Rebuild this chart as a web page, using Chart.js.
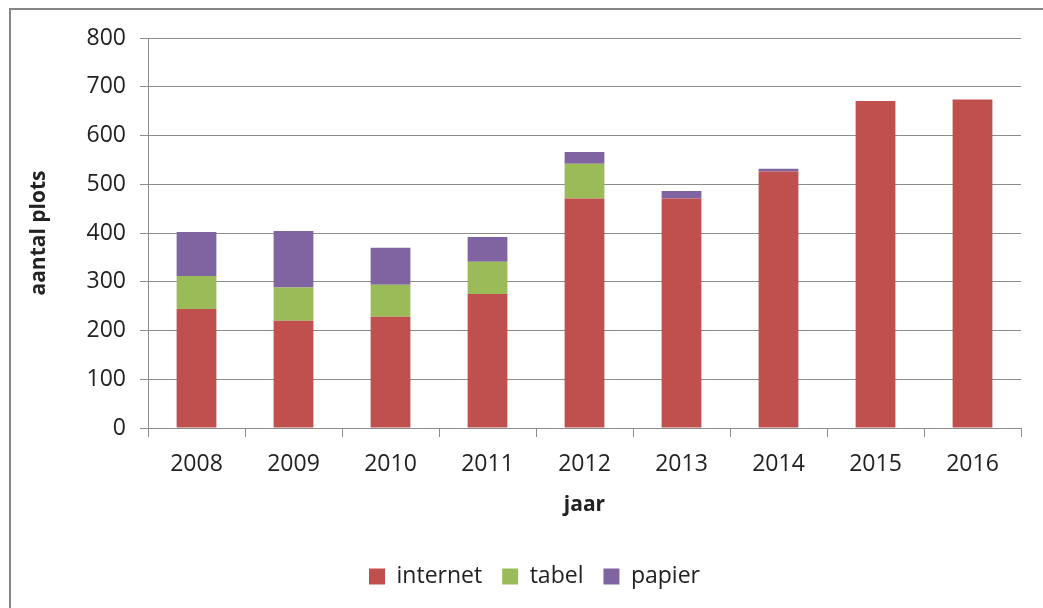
<!DOCTYPE html>
<html>
<head>
<meta charset="utf-8">
<script src="https://cdn.jsdelivr.net/npm/chart.js@4/dist/chart.umd.min.js"></script>
<style>
  html, body { margin: 0; padding: 0; background: #fff; }
  #wrap { position: relative; width: 1043px; height: 608px; }
  #frame { position: absolute; left: 9px; top: 8px; right: 0; bottom: 0;
           border-top: 2px solid #868686; border-left: 2px solid #868686; }
  canvas { position: absolute; left: 0; top: 0; }
</style>
</head>
<body>
<div id="wrap">
  <div id="frame"></div>
  <canvas id="chart" width="1043" height="608"></canvas>
</div>
<script>
/* ── Data ── */
const YEARS    = ['2008','2009','2010','2011','2012','2013','2014','2015','2016'];
const INTERNET = [244, 220, 228, 275, 471, 471, 526, 671, 674];
const TABEL    = [68, 68, 66, 66, 71, 0, 0, 0, 0];
const PAPIER   = [90, 116, 76, 51, 24, 15, 6, 0, 0];
const Y_TICKS  = [0, 100, 200, 300, 400, 500, 600, 700, 800];

const FONT = 'Open Sans';
const GRID = '#8c8c8c';
const TXT  = '#222';

Chart.defaults.font.family = FONT;
Chart.defaults.color = TXT;

const bar = (label, data, color) => ({
  label, data, backgroundColor: color, borderWidth: 0,
  barPercentage: 0.82, categoryPercentage: 0.5,
});

// nudge the legend a bit right, like the original
const shiftLegend = {
  id: 'shiftLegend',
  afterLayout(chart) {
    chart.legend.left += 18;
    chart.legend.right += 18;
  },
};

new Chart(document.getElementById('chart'), {
  type: 'bar',
  data: {
    labels: YEARS,
    datasets: [
      bar('internet', INTERNET, '#C0504D'),
      bar('tabel',    TABEL,    '#9BBB59'),
      bar('papier',   PAPIER,   '#8064A2'),
    ],
  },
  options: {
    responsive: false,
    animation: false,
    layout: { padding: { left: 12, right: 22, top: 38, bottom: 10 } },
    scales: {
      x: {
        stacked: true,
        grid: { offset: true, drawOnChartArea: false, drawTicks: true, tickLength: 9, color: GRID },
        border: { color: GRID },
        ticks: { font: { size: 23 }, color: TXT, padding: 14 },
        title: { display: true, text: 'jaar', font: { size: 21, weight: 'bold' }, color: TXT, padding: { top: 0, bottom: 27 } },
        afterFit: s => { s.height = 117; },
      },
      y: {
        stacked: true,
        min: 0, max: 800,
        afterBuildTicks: s => { s.ticks = Y_TICKS.map(v => ({ value: v })); },
        grid: { color: GRID, tickLength: 8 },
        border: { color: GRID },
        ticks: { font: { size: 23 }, color: TXT, padding: 14 },
        title: { display: true, text: 'aantal plots', font: { size: 21, weight: 'bold' }, color: TXT, padding: { top: 14, bottom: 0 } },
        afterFit: s => { s.width = 136; },
      },
    },
    plugins: {
      legend: {
        position: 'bottom',
        labels: { font: { size: 23 }, color: TXT, boxWidth: 16, boxHeight: 16, padding: 20, useBorderRadius: false },
      },
      tooltip: { enabled: false },
    },
  },
  plugins: [shiftLegend],
});
</script>
</body>
</html>
